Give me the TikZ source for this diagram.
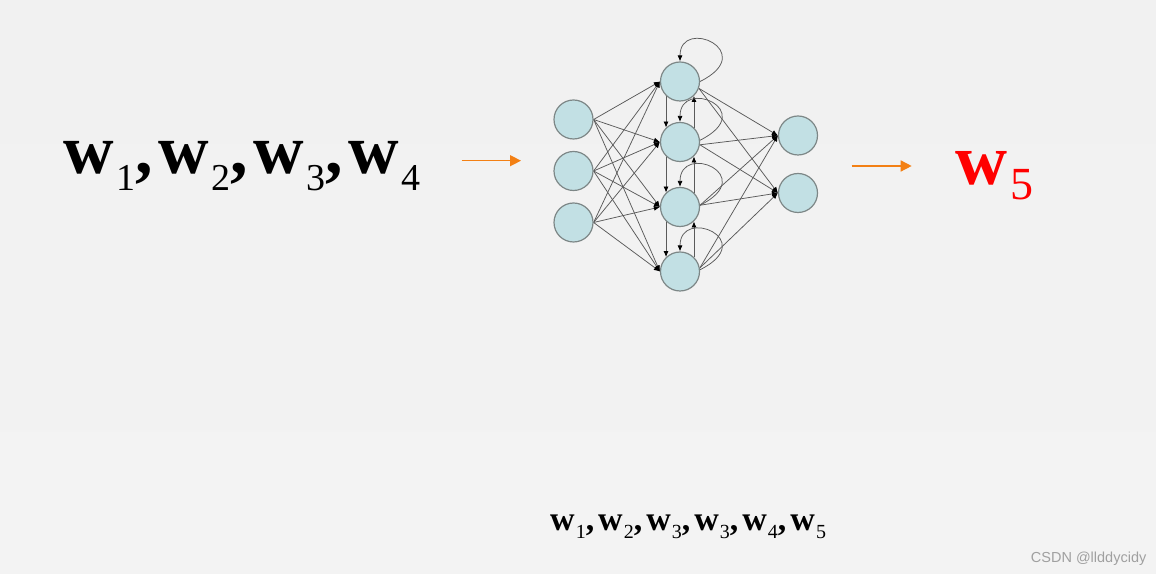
\documentclass[tikz,border=0pt]{standalone}
\usepackage[x11names, svgnames, rgb]{xcolor}
\usepackage{fontspec}
\setmainfont{Liberation Serif}
\newfontfamily\marksans{Liberation Sans}
\usetikzlibrary{positioning,shapes,calc,arrows,arrows.meta}

\pgfdeclarelayer{bg}
\pgfdeclarelayer{edges}
\pgfsetlayers{bg,edges,main}

\definecolor{bgtop}{RGB}{241,241,241}
\definecolor{bgmid}{RGB}{239,239,239}
\definecolor{bgbot}{RGB}{243,243,243}
\definecolor{cellblue}{RGB}{194,224,228}
\definecolor{ringgray}{RGB}{125,135,135}
\definecolor{linkgray}{RGB}{90,90,90}
\definecolor{feedorange}{RGB}{243,128,20}
\definecolor{outred}{RGB}{255,0,0}
\definecolor{markgray}{RGB}{160,160,160}

% w with a lowered index, three sizes
\newcommand{\wbig}[1]{\textbf{w}\kern3bp\raisebox{-17bp}{\fontsize{38bp}{38bp}\selectfont #1}}
\newcommand{\wred}[1]{\textbf{w}\kern3bp\raisebox{-15bp}{\fontsize{46bp}{46bp}\selectfont #1}}
\newcommand{\wsmall}[1]{\textbf{w}\kern1bp\raisebox{-8bp}{\fontsize{20bp}{20bp}\selectfont #1}}

\begin{document}
\begin{tikzpicture}[>={Latex[length=6bp,width=5bp,color=black]},line join=bevel,
    neuron/.style={circle, draw=ringgray, fill=cellblue, line width=1.2bp,
                   minimum size=39bp, inner sep=0pt},
    link/.style={->, draw=linkgray, line width=0.75bp},
    feed/.style={-{Triangle[length=11bp,width=11bp]}, draw=feedorange, line width=1.4bp},
    wtext/.style={inner sep=0pt, anchor=base west}]
        %% background
        \begin{pgfonlayer}{bg}
        \shade[top color=bgtop, middle color=bgmid, bottom color=bgbot]
          (0bp,0bp) rectangle (1156bp,574bp);
        \end{pgfonlayer}
        \useasboundingbox (0bp,0bp) rectangle (1156bp,574bp);
        %%
          % Node: i1 .. i3
          \node[neuron] (i1) at (573.5bp,454.5bp) {};
          \node[neuron] (i2) at (573.5bp,403.0bp) {};
          \node[neuron] (i3) at (573.5bp,351.5bp) {};
          % Node: h1 .. h4
          \node[neuron] (h1) at (680.0bp,492.5bp) {};
          \node[neuron] (h2) at (680.0bp,432.0bp) {};
          \node[neuron] (h3) at (680.0bp,367.0bp) {};
          \node[neuron] (h4) at (680.0bp,302.5bp) {};
          % Node: o1, o2
          \node[neuron] (o1) at (798.0bp,438.5bp) {};
          \node[neuron] (o2) at (798.0bp,381.0bp) {};
        \begin{pgfonlayer}{edges}
          % Edge: i1 -> h1 .. h4
          \draw[link] (i1.east) -- (h1.west);
          \draw[link] (i1.east) -- (h2.west);
          \draw[link] (i1.east) -- (h3.west);
          \draw[link] (i1.east) -- (h4.west);
          % Edge: i2 -> h1 .. h4
          \draw[link] (i2.east) -- (h1.west);
          \draw[link] (i2.east) -- (h2.west);
          \draw[link] (i2.east) -- (h3.west);
          \draw[link] (i2.east) -- (h4.west);
          % Edge: i3 -> h1 .. h4
          \draw[link] (i3.east) -- (h1.west);
          \draw[link] (i3.east) -- (h2.west);
          \draw[link] (i3.east) -- (h3.west);
          \draw[link] (i3.east) -- (h4.west);
          % Edge: h1 .. h4 -> o1, o2
          \draw[link] (h1.-20) -- (o1.west);
          \draw[link] (h1.-20) -- (o2.west);
          \draw[link] (h2.-8) -- (o1.west);
          \draw[link] (h2.-8) -- (o2.west);
          \draw[link] (h3.5) -- (o1.west);
          \draw[link] (h3.5) -- (o2.west);
          \draw[link] (h4.10) -- (o1.west);
          \draw[link] (h4.10) -- (o2.west);
          % Edge: h down the left side
          \draw[link] (h1.226) -- (h2.134);
          \draw[link] (h2.226) -- (h3.134);
          \draw[link] (h3.226) -- (h4.134);
          % Edge: h up the right side
          \draw[link] (h2.46) -- (h1.314);
          \draw[link] (h3.46) -- (h2.314);
          \draw[link] (h4.46) -- (h3.314);
          % Edge: h -> h (self)
          \draw[link] (h1.east) .. controls +(60bp,30bp) and +(0bp,45bp) .. (h1.north);
          \draw[link] (h2.5) .. controls +(60bp,30bp) and +(0bp,45bp) .. (h2.north);
          \draw[link] (h3.5) .. controls +(60bp,30bp) and +(0bp,45bp) .. (h3.north);
          \draw[link] (h4.5) .. controls +(60bp,30bp) and +(0bp,45bp) .. (h4.north);
        \end{pgfonlayer}
        %%
          % Node: wlist
          \node[wtext] (wlist) at (63bp,400.7bp)
            {\fontsize{70bp}{70bp}\selectfont\wbig{1}\textbf{,}\kern5bp\wbig{2}\textbf{,}\kern5bp\wbig{3}\textbf{,}\kern5bp\wbig{4}};
          % Node: wnext
          \node[wtext, text=outred] (wnext) at (955bp,389bp)
            {\fontsize{72bp}{72bp}\selectfont\wred{5}};
          % Node: wseq
          \node[wtext] (wseq) at (550bp,43bp)
            {\fontsize{34bp}{34bp}\selectfont\wsmall{1}\textbf{,}\kern4bp\wsmall{2}\textbf{,}\kern4bp\wsmall{3}\textbf{,}\kern4bp\wsmall{3}\textbf{,}\kern4bp\wsmall{4}\textbf{,}\kern4bp\wsmall{5}};
          % Node: mark
          \node[wtext, text=markgray] (mark) at (1030.7bp,11.7bp)
            {\marksans\fontsize{14.5bp}{14.5bp}\selectfont CSDN @llddycidy};
          % Edge: wlist -> net, net -> wnext
          \coordinate (in0) at (461.5bp,413.3bp);
          \coordinate (in1) at (521.0bp,413.3bp);
          \coordinate (out0) at (851.7bp,408.0bp);
          \coordinate (out1) at (911.7bp,408.0bp);
          \draw[feed] (in0) -- (in1);
          \draw[feed] (out0) -- (out1);
        %
\end{tikzpicture}
\end{document}
